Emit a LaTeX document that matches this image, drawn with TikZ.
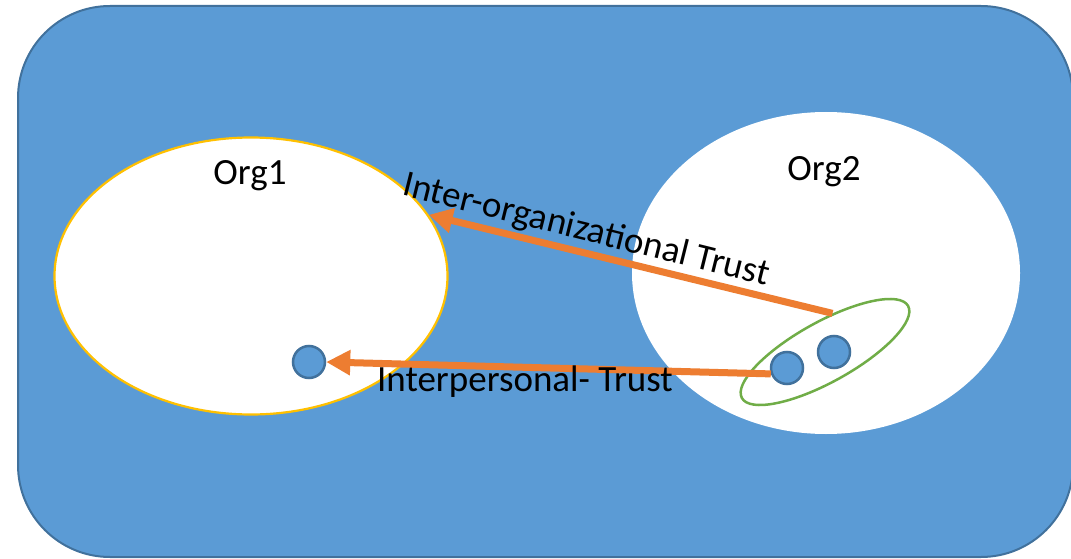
\documentclass[tikz,border=0pt]{standalone}
\usepackage{fontspec}
\setmainfont{Carlito}
\usetikzlibrary{shapes.geometric,arrows.meta}
\definecolor{bgblue}{HTML}{5B9BD5}
\definecolor{edgeblue}{HTML}{41719C}
\definecolor{trustorange}{HTML}{ED7D31}
\definecolor{grpgreen}{HTML}{70AD47}
\definecolor{orgyellow}{HTML}{FFC000}

\begin{document}
\begin{tikzpicture}[x=1pt,y=-1pt,
    org/.style={ellipse,fill=white,inner sep=0pt},
    member/.style={circle,fill=bgblue,draw=edgeblue,line width=2.5pt,minimum size=32pt,inner sep=0pt},
    trust/.style={trustorange,line width=7pt,-{Triangle[length=24pt,width=24pt]}},
    lbl/.style={font=\fontsize{37}{44}\selectfont,inner sep=0pt}]
    \useasboundingbox (0,0) rectangle (1071,559);
    % background
    \draw[fill=bgblue,draw=edgeblue,line width=2pt,rounded corners=92pt] (18,6) rectangle (1073,557);
    % organizations
    \node[org,minimum width=388pt,minimum height=322pt] (org2) at (826,273) {};
    \node[org,draw=orgyellow,line width=2.2pt,minimum width=393pt,minimum height=277pt] (org1) at (251,276) {};
    \node[ellipse,draw=grpgreen,line width=2.5pt,minimum width=190pt,minimum height=60pt,inner sep=0pt,rotate=29] (grp) at (825,352) {};
    % members
    \node[member] (p1) at (309,362) {};
    \node[member] (p2a) at (787,368) {};
    \node[member] (p2b) at (834,352) {};
    % trust arrows
    \draw[trust] (p2a.200) -- (p1.east);
    \draw[trust] (grp.50) -- (org1.19);
    % labels
    \node[lbl] (org1lbl) at (250,176) {Org1};
    \node[lbl] (org2lbl) at (824,172) {Org2};
    \node[lbl] (interlbl) at (525,382) {Interpersonal- Trust};
    \node[lbl,rotate=-14] (orglbl) at (586,231) {Inter-organizational Trust};
\end{tikzpicture}
\end{document}
